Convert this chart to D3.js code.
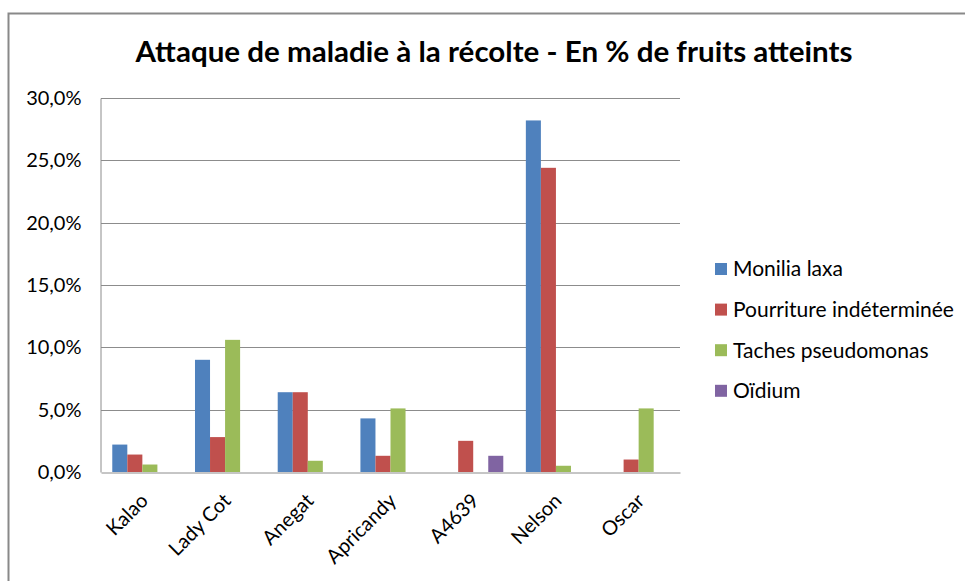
<!DOCTYPE html>
<html>
<head>
<meta charset="utf-8">
<script src="https://cdn.jsdelivr.net/npm/d3@7"></script>
<style>
  body { margin: 0; background: #fff; }
  svg { display: block; font-family: Lato, "Noto Sans", sans-serif; }
</style>
</head>
<body>
<div id="c"></div>
<script>
"use strict";

const title = "Attaque de maladie à la récolte - En % de fruits atteints"
const categories = ["Kalao", "Lady Cot", "Anegat", "Apricandy", "A4639", "Nelson", "Oscar"]
const seriesNames = ["Monilia laxa", "Pourriture indéterminée", "Taches pseudomonas", "Oïdium"]
const moniliaLaxa = [2.2, 9.0, 6.4, 4.3, null, 28.2, null]
const pourriture = [1.4, 2.8, 6.4, 1.3, 2.5, 24.4, 1.0]
const tachesPseudomonas = [0.6, 10.6, 0.9, 5.1, null, 0.5, 5.1]
const oidium = [null, null, null, null, 1.3, null, null]
const yTicks = [0, 5, 10, 15, 20, 25, 30]
const colors = ["#4f81bd", "#c0504d", "#9bbb59", "#8064a2"]

const seriesValues = [moniliaLaxa, pourriture, tachesPseudomonas, oidium]

const width = 965, height = 581
const plot = {left: 101, right: 680, top: 98, bottom: 472}

let svg = d3.select('#c').append('svg')
    .attr('width', width)
    .attr('height', height)

// chart frame (only top and left edges show)
svg.append('path')
    .attr('d', 'M8.5,' + height + 'V13.5H' + width)
    .attr('fill', 'none')
    .attr('stroke', '#898989')
    .attr('stroke-width', 2)

svg.append('text')
    .attr('x', 494).attr('y', 62)
    .attr('text-anchor', 'middle')
    .attr('textLength', 717)
    .attr('lengthAdjust', 'spacingAndGlyphs')
    .style('font-size', '28px')
    .style('font-weight', 'bold')
    .text(title)

let xScale = d3.scaleBand()
    .domain(categories)
    .range([plot.left, plot.right])
    .paddingInner(1.5 / 5.5)
    .paddingOuter(0.75 / 5.5)
let xSub = d3.scaleBand()
    .domain(d3.range(seriesNames.length))
    .range([0, xScale.bandwidth()])
let yScale = d3.scaleLinear()
    .domain([0, 30])
    .range([plot.bottom, plot.top])

const fmt = d => d.toFixed(1).replace('.', ',') + '%'

// gridlines
svg.append('g')
    .selectAll('line')
    .data(yTicks.filter(t => t > 0))
    .enter()
    .append('line')
        .attr('x1', plot.left).attr('x2', plot.right)
        .attr('y1', d => Math.round(yScale(d)) + 0.5)
        .attr('y2', d => Math.round(yScale(d)) + 0.5)
        .attr('stroke', '#8c8c8c')

let yAxis = svg.append('g')
    .attr('transform', 'translate(' + (plot.left - 0.5) + ',0)')
    .call(d3.axisLeft(yScale).tickValues(yTicks).tickSize(0).tickPadding(19).tickFormat(fmt))
yAxis.select('.domain').attr('stroke', '#8c8c8c')
yAxis.selectAll('text')
    .style('font-size', '20px')
    .style('font-family', 'Lato, sans-serif')
    .attr('fill', '#000')

// bars
seriesValues.forEach((values, si) => {
    svg.append('g')
        .selectAll('rect')
        .data(categories.map((c, i) => ({cat: c, v: values[i]})).filter(d => d.v != null))
        .enter()
        .append('rect')
            .attr('x', d => xScale(d.cat) + xSub(si))
            .attr('y', d => yScale(d.v))
            .attr('width', xSub.bandwidth())
            .attr('height', d => plot.bottom - yScale(d.v))
            .attr('fill', colors[si])
})

let xAxis = svg.append('g')
    .attr('transform', 'translate(0,' + (plot.bottom + 0.5) + ')')
    .call(d3.axisBottom(xScale).tickSize(0).tickFormat(''))
xAxis.select('.domain').attr('stroke', '#8c8c8c')

svg.append('g')
    .selectAll('text')
    .data(categories)
    .enter()
    .append('text')
        .attr('transform', d => 'translate(' + (xScale(d) + xScale.bandwidth() / 2 + 7) + ',502) rotate(-45)')
        .attr('text-anchor', 'end')
        .style('font-size', '20px')
        .text(d => d)

// legend
let legend = svg.append('g')
    .attr('transform', 'translate(715,269)')
seriesNames.forEach((name, i) => {
    let g = legend.append('g')
        .attr('transform', 'translate(0,' + i * 40.6 + ')')
    g.append('rect')
        .attr('x', 0).attr('y', -6)
        .attr('width', 12).attr('height', 12)
        .attr('fill', colors[i])
    g.append('text')
        .attr('x', 18).attr('y', 0)
        .attr('dy', '0.35em')
        .style('font-size', '21px')
        .text(name)
})
</script>
</body>
</html>
